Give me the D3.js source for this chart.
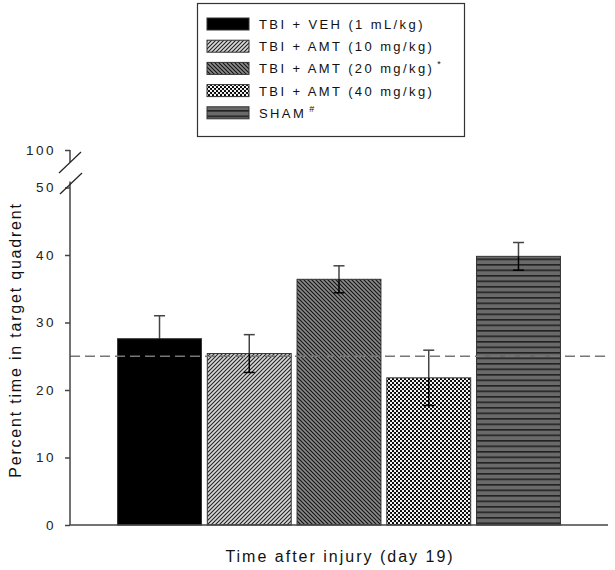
<!DOCTYPE html>
<html>
<head>
<meta charset="utf-8">
<title>Percent time in target quadrent</title>
<script src="https://d3js.org/d3.v7.min.js"></script>
<style>
  body { margin: 0; background: #fff; }
  svg { font-family: "Liberation Sans", Arial, sans-serif; }
</style>
</head>
<body>
<div id="grafico"></div>
<script>
// dados
const grupos = ['TBI + VEH (1 mL/kg)', 'TBI + AMT (10 mg/kg)', 'TBI + AMT (20 mg/kg)', 'TBI + AMT (40 mg/kg)', 'SHAM']
const marcas = ['', '', '*', '', '#']
const medias = [27.6, 25.4, 36.4, 21.8, 39.8]
const erros = [3.4, 2.8, 2.0, 4.1, 2.05]
const ticksY = [0, 10, 20, 30, 40, 50]
const tickTopo = 100
const linhaAcaso = 25

const largura = 615, altura = 570

const svg = d3.select('#grafico').append('svg')
  .attr('width', largura)
  .attr('height', altura)

// padrões de preenchimento
const defs = svg.append('defs')

function padrao(id, tam, fundo, desenha) {
  const p = defs.append('pattern')
    .attr('id', id)
    .attr('patternUnits', 'userSpaceOnUse')
    .attr('width', tam).attr('height', tam)
  p.append('rect').attr('width', tam).attr('height', tam).attr('fill', fundo)
  desenha(p)
}

padrao('p-barra', 4, '#d8d8d8', p => {
  p.append('path').attr('d', 'M-1,1 l2,-2 M0,4 l4,-4 M3,5 l2,-2')
    .attr('stroke', '#222').attr('stroke-width', 1.1)
})
padrao('p-contra', 4, '#8a8a8a', p => {
  p.append('path').attr('d', 'M-1,3 l2,2 M0,0 l4,4 M3,-1 l2,2')
    .attr('stroke', '#111').attr('stroke-width', 1.1)
})
padrao('p-xadrez', 4, '#000', p => {
  p.append('circle').attr('cx', 1).attr('cy', 1).attr('r', 1.15).attr('fill', '#fff')
  p.append('circle').attr('cx', 3).attr('cy', 3).attr('r', 1.15).attr('fill', '#fff')
})
padrao('p-horiz', 5.5, '#6a6a6a', p => {
  p.append('rect').attr('y', 0).attr('width', 5.5).attr('height', 1.6).attr('fill', '#222')
})

const preenchimentos = ['#000', 'url(#p-barra)', 'url(#p-contra)', 'url(#p-xadrez)', 'url(#p-horiz)']

// escalas
const x = d3.scaleBand()
  .domain(grupos)
  .range([70, 608])
  .paddingInner(0.065)
  .paddingOuter(0.53)

const y = d3.scaleLinear()
  .domain([0, 50])
  .range([525, 187.5])

const yTopo = d3.scaleLinear()
  .domain([90, 100])
  .range([190, 150])

// barras
svg.append('g').selectAll('rect')
  .data(grupos)
  .join('rect')
    .attr('x', d => x(d))
    .attr('y', (d, i) => y(medias[i]))
    .attr('width', x.bandwidth())
    .attr('height', (d, i) => y(0) - y(medias[i]))
    .attr('fill', (d, i) => preenchimentos[i])
    .attr('stroke', '#333')
    .attr('stroke-width', 1)

// barras de erro (metade de cima cinza, metade de baixo preta)
const eb = svg.append('g').attr('stroke-width', 1.5)
grupos.forEach((g, i) => {
  const cx = x(g) + x.bandwidth() / 2
  const cima = medias[i] + erros[i], baixo = medias[i] - erros[i]
  eb.append('line')
    .attr('x1', cx).attr('x2', cx)
    .attr('y1', y(medias[i])).attr('y2', y(cima))
    .attr('stroke', '#444')
  eb.append('line')
    .attr('x1', cx - 5.5).attr('x2', cx + 5.5)
    .attr('y1', y(cima)).attr('y2', y(cima))
    .attr('stroke', '#444')
  eb.append('line')
    .attr('x1', cx).attr('x2', cx)
    .attr('y1', y(medias[i])).attr('y2', y(baixo))
    .attr('stroke', '#000')
  eb.append('line')
    .attr('x1', cx - 5.5).attr('x2', cx + 5.5)
    .attr('y1', y(baixo)).attr('y2', y(baixo))
    .attr('stroke', '#000')
})

// linha do acaso (25%)
svg.append('line')
  .attr('x1', 70).attr('x2', 608)
  .attr('y1', y(linhaAcaso)).attr('y2', y(linhaAcaso))
  .attr('stroke', '#777')
  .attr('stroke-width', 1.5)
  .attr('stroke-dasharray', '10,5')

// eixo x
svg.append('line')
  .attr('x1', 70).attr('x2', 608)
  .attr('y1', y(0)).attr('y2', y(0))
  .attr('stroke', '#444').attr('stroke-width', 1.5)

// eixo y (parte de baixo)
const eixoY = svg.append('g')
  .attr('transform', 'translate(70,0)')
  .call(d3.axisLeft(y).tickValues(ticksY).tickSize(5).tickPadding(9))
eixoY.select('.domain').remove()
eixoY.append('line')
  .attr('x1', 0).attr('x2', 0)
  .attr('y1', y(0)).attr('y2', y(50) - 6)
  .attr('stroke', '#444').attr('stroke-width', 1.5)

// eixo y (parte de cima)
const eixoTopo = svg.append('g')
  .attr('transform', 'translate(70,0)')
  .call(d3.axisLeft(yTopo).tickValues([tickTopo]).tickSize(5).tickPadding(9))
eixoTopo.select('.domain').remove()
eixoTopo.append('line')
  .attr('x1', 0).attr('x2', 0)
  .attr('y1', yTopo(100)).attr('y2', yTopo(100) + 12)
  .attr('stroke', '#444').attr('stroke-width', 1.5)

svg.selectAll('.tick line').attr('stroke', '#444').attr('stroke-width', 1.5)
svg.selectAll('.tick text')
  .attr('font-size', 13.5)
  .attr('fill', '#222')
  .attr('letter-spacing', 2.5)
  .style('font-family', '"Liberation Sans", Arial, sans-serif')

// marcas de quebra
const quebra = svg.append('g').attr('stroke', '#222').attr('stroke-width', 1.2)
quebra.append('line').attr('x1', 59).attr('y1', 173).attr('x2', 81).attr('y2', 152)
quebra.append('line').attr('x1', 60).attr('y1', 194).attr('x2', 82).attr('y2', 173)

// títulos dos eixos
svg.append('text')
  .attr('transform', 'translate(21,340) rotate(-90)')
  .attr('text-anchor', 'middle')
  .attr('font-size', 16)
  .attr('letter-spacing', 1.8)
  .attr('fill', '#111')
  .text('Percent time in target quadrent')

svg.append('text')
  .attr('x', 340).attr('y', 562)
  .attr('text-anchor', 'middle')
  .attr('font-size', 16)
  .attr('letter-spacing', 2.0)
  .attr('fill', '#111')
  .text('Time after injury (day 19)')

// legenda
const legenda = svg.append('g')
legenda.append('rect')
  .attr('x', 197.5).attr('y', 3.5)
  .attr('width', 267).attr('height', 133)
  .attr('fill', '#fff').attr('stroke', '#333').attr('stroke-width', 1.2)

grupos.forEach((g, i) => {
  const yy = 24 + i * 22.2
  legenda.append('rect')
    .attr('x', 207).attr('y', yy - 6)
    .attr('width', 42).attr('height', 12)
    .attr('fill', preenchimentos[i])
    .attr('stroke', '#333').attr('stroke-width', 1)
  const t = legenda.append('text')
    .attr('x', 259).attr('y', yy + 5)
    .attr('font-size', 13)
    .attr('letter-spacing', 2.4)
    .attr('fill', '#111')
    .text(g)
  if (marcas[i]) {
    t.append('tspan')
      .attr('dx', 3).attr('dy', -6)
      .attr('font-size', 9)
      .text(marcas[i])
  }
})
</script>
</body>
</html>
